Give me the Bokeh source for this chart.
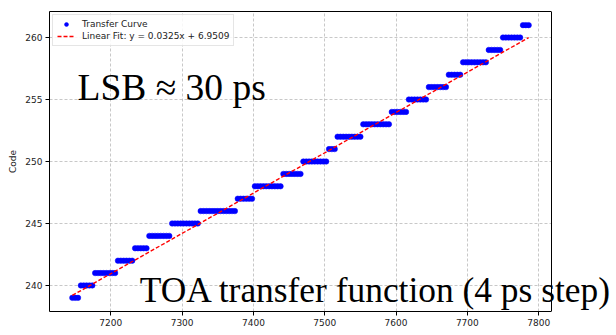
import numpy as np
from bokeh.plotting import figure
from bokeh.models import (Range1d, FixedTicker, Label, Legend, LegendItem, ColumnDataSource,
                          LinearAxis, BoxAnnotation, Span)
from bokeh.embed import file_html
from bokeh.resources import INLINE

# ---- data ----
STEP_PS = 4  # sweep step (from "4 ps step")
CODES = [239, 240, 241, 242, 243, 244, 245, 246, 247, 248, 249, 250,
         251, 252, 253, 254, 255, 256, 257, 258, 259, 260, 261]
T_FIRST = [7146, 7158, 7178, 7210, 7234, 7254, 7286, 7326, 7378, 7402, 7442, 7470,
           7506, 7518, 7554, 7594, 7618, 7646, 7674, 7694, 7730, 7750, 7778]
T_LAST = [7154, 7174, 7206, 7230, 7250, 7282, 7322, 7374, 7398, 7438, 7466, 7502,
          7514, 7550, 7590, 7614, 7642, 7670, 7690, 7726, 7746, 7774, 7786]
FIT_SLOPE = 0.0325
FIT_INTERCEPT = 6.9509
X_TICKS = [7200, 7300, 7400, 7500, 7600, 7700, 7800]
Y_TICKS = [240, 245, 250, 255, 260]

# expand each code plateau into its sampled time points
times, codes = [], []
for c, t0, t1 in zip(CODES, T_FIRST, T_LAST):
    for t in range(t0, t1 + 1, STEP_PS):
        times.append(t)
        codes.append(c)
times = np.array(times, dtype=float)
codes = np.array(codes, dtype=float)

fit_x = np.array([times.min(), times.max()])
fit_y = FIT_SLOPE * fit_x + FIT_INTERCEPT

xpad = 0.05 * (times.max() - times.min())
ypad = 0.05 * (codes.max() - codes.min())
X_LO, X_HI = times.min() - xpad, times.max() + xpad
Y_LO, Y_HI = codes.min() - ypad, codes.max() + ypad

# layout: the axes box spans px 49..551, but the drawing frame runs to the
# canvas edge so the overlaid slide text may run past the right spine
W, H = 616, 335
FRAME_LEFT, AXES_RIGHT = 49, 551
X_END = X_LO + (X_HI - X_LO) * (W - FRAME_LEFT) / (AXES_RIGHT - FRAME_LEFT)

p = figure(width=W, height=H, output_backend="svg", toolbar_location=None,
           x_range=Range1d(X_LO, X_END), y_range=Range1d(Y_LO, Y_HI),
           min_border_left=FRAME_LEFT, min_border_right=0, min_border_top=11, min_border_bottom=24)
p.background_fill_color = "white"
p.border_fill_color = "white"
p.outline_line_color = None

for ax in (p.xaxis[0], p.yaxis[0]):
    ax.axis_line_color = "black"
    ax.axis_line_width = 1
    ax.major_tick_in = 0
    ax.major_tick_out = 4
    ax.major_tick_line_color = "black"
    ax.minor_tick_line_color = None
    ax.major_label_text_font = "DejaVu Sans"
    ax.major_label_text_font_size = "9px"
    ax.major_label_text_color = "#222222"
    ax.major_label_standoff = 3
p.xaxis[0].ticker = FixedTicker(ticks=X_TICKS)
p.xaxis[0].bounds = (X_LO, X_HI)
p.yaxis[0].ticker = FixedTicker(ticks=Y_TICKS)
p.yaxis[0].axis_label = "Code"
p.yaxis[0].axis_label_text_font = "DejaVu Sans"
p.yaxis[0].axis_label_text_font_size = "9px"
p.yaxis[0].axis_label_text_font_style = "normal"
p.yaxis[0].axis_label_text_color = "#222222"
p.yaxis[0].axis_label_standoff = 4

# top spine
top = LinearAxis(ticker=FixedTicker(ticks=[]), bounds=(X_LO, X_HI),
                 major_tick_out=0, major_tick_in=0, minor_tick_line_color=None,
                 major_label_text_font_size="0px", axis_line_color="black", axis_line_width=1)
p.add_layout(top, "above")

for g in (p.xgrid[0], p.ygrid[0]):
    g.grid_line_color = "#b0b0b0"
    g.grid_line_alpha = 0.7
    g.grid_line_dash = "3 2"
    g.grid_line_width = 1

src = ColumnDataSource(dict(t=times, c=codes))
sc = p.scatter("t", "c", source=src, size=5.5, marker="circle",
               fill_color="#0000ff", line_color="#0000ff", line_width=0.5)
ln = p.line(fit_x, fit_y, line_color="#ff0000", line_width=1.4, line_dash="4 2")

# blank area right of the axes box, then the right spine
p.add_layout(BoxAnnotation(left=X_HI, fill_color="white", fill_alpha=1.0, line_color=None))
p.add_layout(Span(location=X_HI, dimension="height", line_color="black", line_width=1))

legend = Legend(items=[LegendItem(label="Transfer Curve", renderers=[sc]),
                       LegendItem(label="Linear Fit: y = 0.0325x + 6.9509", renderers=[ln])],
                location="top_left")
legend.margin = 3
legend.padding = 4
legend.spacing = 2
legend.label_height = 10
legend.glyph_height = 10
legend.glyph_width = 18
legend.label_standoff = 7
legend.label_text_font = "DejaVu Sans"
legend.label_text_font_size = "9px"
legend.label_text_color = "#222222"
legend.border_line_color = "#cccccc"
legend.border_line_width = 1
legend.background_fill_alpha = 0.85
p.add_layout(legend)

# x axis title
p.add_layout(Label(x=(AXES_RIGHT - FRAME_LEFT) / 2, y=-24, x_units="screen", y_units="screen",
                   text="Time (ps)", text_align="center", text_baseline="bottom", level="overlay",
                   text_font="DejaVu Sans", text_font_size="9px", text_color="#222222"))

# slide annotations
p.add_layout(Label(x=28, y=223.7, x_units="screen", y_units="screen", text="LSB ≈ 30 ps",
                   text_align="left", text_baseline="alphabetic", level="overlay",
                   text_font="Liberation Serif", text_font_size="37.5px", text_color="black"))
p.add_layout(Label(x=90.3, y=21.7, x_units="screen", y_units="screen",
                   text="TOA transfer function (4 ps step)", level="overlay",
                   text_align="left", text_baseline="alphabetic",
                   text_font="Liberation Serif", text_font_size="35.4px", text_color="black"))

open("out.html", "w").write(file_html(p, INLINE))
